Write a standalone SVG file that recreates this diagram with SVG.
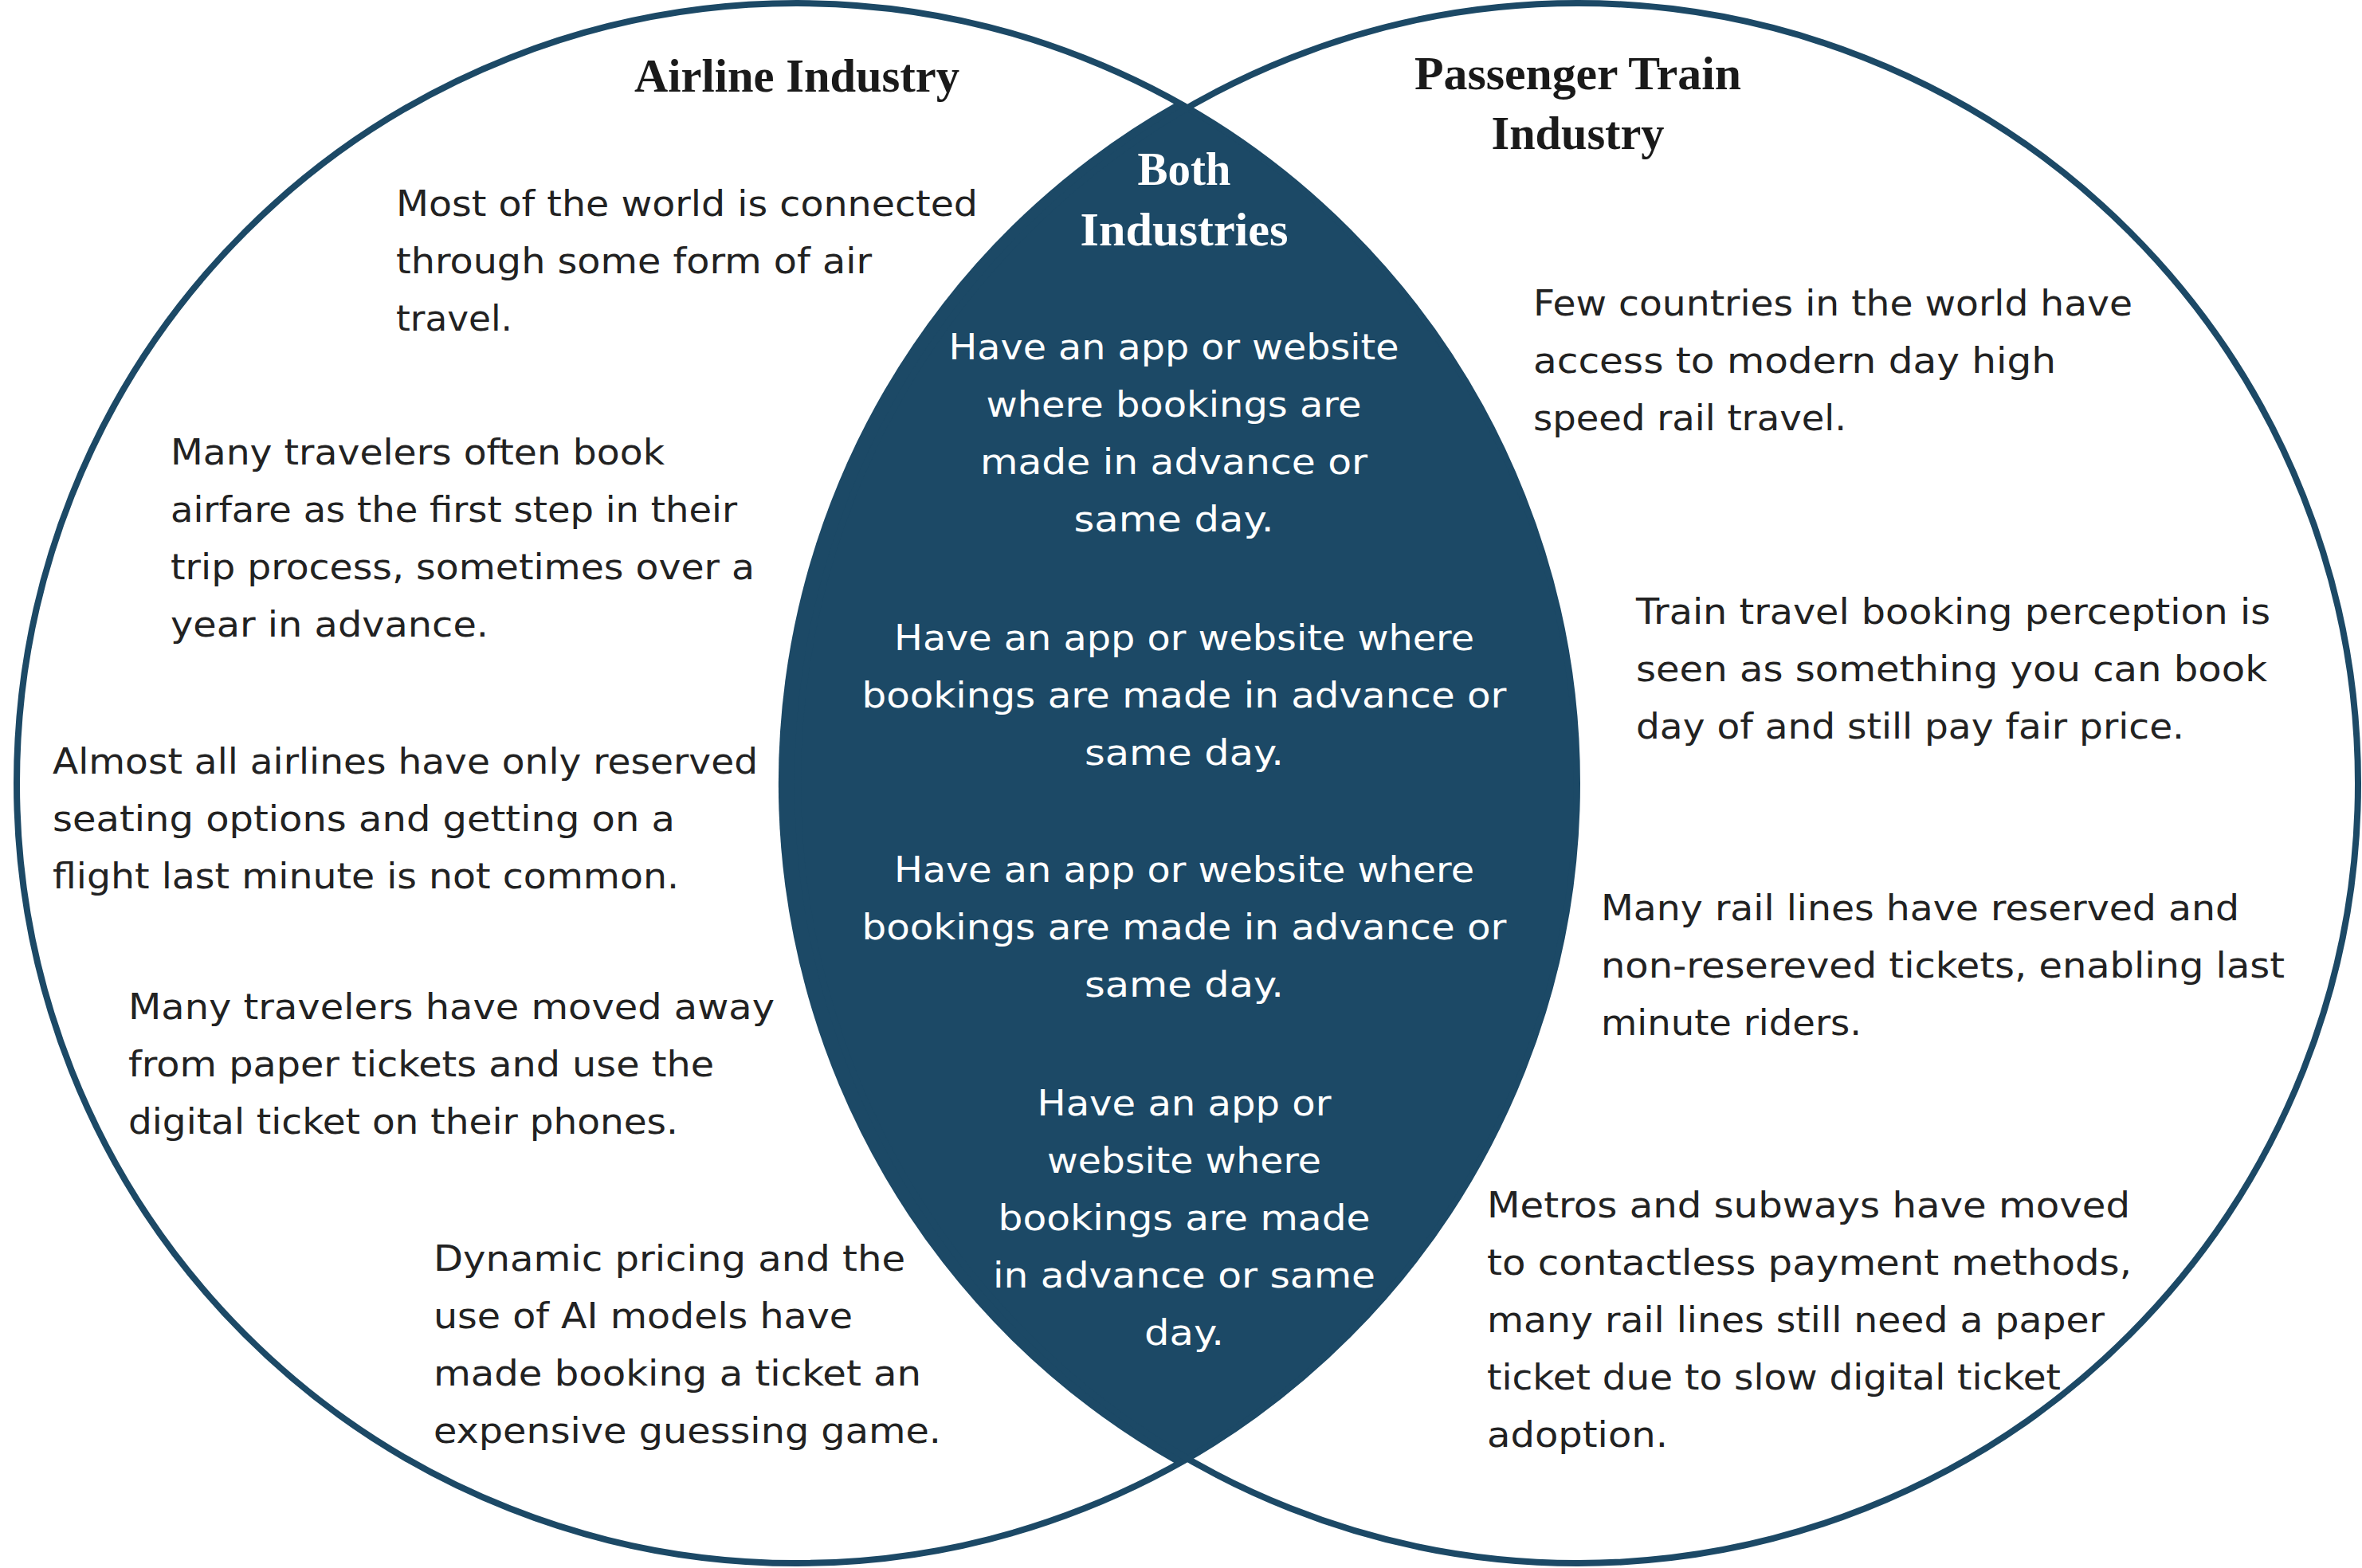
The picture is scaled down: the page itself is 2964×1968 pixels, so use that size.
<svg xmlns="http://www.w3.org/2000/svg" width="2964" height="1968" viewBox="0 0 2964 1968">
<style>
.ring{fill:none;stroke:#1c4966;stroke-width:8}
.lens{fill:#1c4966}
.ttl{font-family:"Liberation Serif","Times New Roman",serif;font-weight:700;font-size:60px;fill:#1a1a1a;text-anchor:middle}
.ttlw{fill:#ffffff}
.bd{font-family:"DejaVu Sans","Open Sans",sans-serif;font-size:44px;fill:#222222}
.bw{fill:#ffffff;text-anchor:middle}
</style>
<rect x="0" y="0" width="2964" height="1968" fill="#ffffff"/>
<g id="both">
<path class="lens" d="M 1476 128.5 A 979 979 0 0 1 1476 1837.5 A 981 981 0 0 1 1476 128.5 Z"/>
</g>
<g id="airline">
<circle class="ring" cx="1000" cy="983" r="979"/>
<text class="ttl" x="1000" y="115" textLength="408" lengthAdjust="spacingAndGlyphs">Airline Industry</text>
<g class="bd">
<text x="497" y="271" textLength="730" lengthAdjust="spacingAndGlyphs">Most of the world is connected</text>
<text x="497" y="343" textLength="597" lengthAdjust="spacingAndGlyphs">through some form of air</text>
<text x="497" y="415" textLength="146" lengthAdjust="spacingAndGlyphs">travel.</text>
<text x="214" y="583" textLength="620" lengthAdjust="spacingAndGlyphs">Many travelers often book</text>
<text x="214" y="655" textLength="711" lengthAdjust="spacingAndGlyphs">airfare as the first step in their</text>
<text x="214" y="727" textLength="733" lengthAdjust="spacingAndGlyphs">trip process, sometimes over a</text>
<text x="214" y="799" textLength="399" lengthAdjust="spacingAndGlyphs">year in advance.</text>
<text x="66" y="971" textLength="885" lengthAdjust="spacingAndGlyphs">Almost all airlines have only reserved</text>
<text x="66" y="1043" textLength="781" lengthAdjust="spacingAndGlyphs">seating options and getting on a</text>
<text x="66" y="1115" textLength="786" lengthAdjust="spacingAndGlyphs">flight last minute is not common.</text>
<text x="161" y="1279" textLength="811" lengthAdjust="spacingAndGlyphs">Many travelers have moved away</text>
<text x="161" y="1351" textLength="735" lengthAdjust="spacingAndGlyphs">from paper tickets and use the</text>
<text x="161" y="1423" textLength="690" lengthAdjust="spacingAndGlyphs">digital ticket on their phones.</text>
<text x="544" y="1595" textLength="592" lengthAdjust="spacingAndGlyphs">Dynamic pricing and the</text>
<text x="544" y="1667" textLength="526" lengthAdjust="spacingAndGlyphs">use of AI models have</text>
<text x="544" y="1739" textLength="612" lengthAdjust="spacingAndGlyphs">made booking a ticket an</text>
<text x="544" y="1811" textLength="637" lengthAdjust="spacingAndGlyphs">expensive guessing game.</text>
</g>
</g>
<g id="train">
<circle class="ring" cx="1980" cy="983" r="979"/>
<text class="ttl" x="1980" y="112" textLength="410" lengthAdjust="spacingAndGlyphs">Passenger Train</text>
<text class="ttl" x="1980" y="187" textLength="217" lengthAdjust="spacingAndGlyphs">Industry</text>
<g class="bd">
<text x="1924" y="396" textLength="752" lengthAdjust="spacingAndGlyphs">Few countries in the world have</text>
<text x="1924" y="468" textLength="656" lengthAdjust="spacingAndGlyphs">access to modern day high</text>
<text x="1924" y="540" textLength="393" lengthAdjust="spacingAndGlyphs">speed rail travel.</text>
<text x="2053" y="783" textLength="796" lengthAdjust="spacingAndGlyphs">Train travel booking perception is</text>
<text x="2053" y="855" textLength="792" lengthAdjust="spacingAndGlyphs">seen as something you can book</text>
<text x="2053" y="927" textLength="688" lengthAdjust="spacingAndGlyphs">day of and still pay fair price.</text>
<text x="2009" y="1155" textLength="801" lengthAdjust="spacingAndGlyphs">Many rail lines have reserved and</text>
<text x="2009" y="1227" textLength="858" lengthAdjust="spacingAndGlyphs">non-resereved tickets, enabling last</text>
<text x="2009" y="1299" textLength="327" lengthAdjust="spacingAndGlyphs">minute riders.</text>
<text x="1866" y="1528" textLength="807" lengthAdjust="spacingAndGlyphs">Metros and subways have moved</text>
<text x="1866" y="1600" textLength="809" lengthAdjust="spacingAndGlyphs">to contactless payment methods,</text>
<text x="1866" y="1672" textLength="775" lengthAdjust="spacingAndGlyphs">many rail lines still need a paper</text>
<text x="1866" y="1744" textLength="720" lengthAdjust="spacingAndGlyphs">ticket due to slow digital ticket</text>
<text x="1866" y="1816" textLength="227" lengthAdjust="spacingAndGlyphs">adoption.</text>
</g>
</g>
<g id="both-text">
<text class="ttl ttlw" x="1486" y="232" textLength="117" lengthAdjust="spacingAndGlyphs">Both</text>
<text class="ttl ttlw" x="1486" y="308" textLength="261" lengthAdjust="spacingAndGlyphs">Industries</text>
<g class="bd bw">
<text x="1473" y="451" textLength="565" lengthAdjust="spacingAndGlyphs">Have an app or website</text>
<text x="1473" y="523" textLength="471" lengthAdjust="spacingAndGlyphs">where bookings are</text>
<text x="1473" y="595" textLength="486" lengthAdjust="spacingAndGlyphs">made in advance or</text>
<text x="1473" y="667" textLength="251" lengthAdjust="spacingAndGlyphs">same day.</text>
<text x="1486" y="816" textLength="728" lengthAdjust="spacingAndGlyphs">Have an app or website where</text>
<text x="1486" y="888" textLength="809" lengthAdjust="spacingAndGlyphs">bookings are made in advance or</text>
<text x="1486" y="960" textLength="250" lengthAdjust="spacingAndGlyphs">same day.</text>
<text x="1486" y="1107" textLength="728" lengthAdjust="spacingAndGlyphs">Have an app or website where</text>
<text x="1486" y="1179" textLength="809" lengthAdjust="spacingAndGlyphs">bookings are made in advance or</text>
<text x="1486" y="1251" textLength="250" lengthAdjust="spacingAndGlyphs">same day.</text>
<text x="1486" y="1400" textLength="369" lengthAdjust="spacingAndGlyphs">Have an app or</text>
<text x="1486" y="1472" textLength="344" lengthAdjust="spacingAndGlyphs">website where</text>
<text x="1486" y="1544" textLength="467" lengthAdjust="spacingAndGlyphs">bookings are made</text>
<text x="1486" y="1616" textLength="480" lengthAdjust="spacingAndGlyphs">in advance or same</text>
<text x="1486" y="1688" textLength="100" lengthAdjust="spacingAndGlyphs">day.</text>
</g>
</g>
</svg>
